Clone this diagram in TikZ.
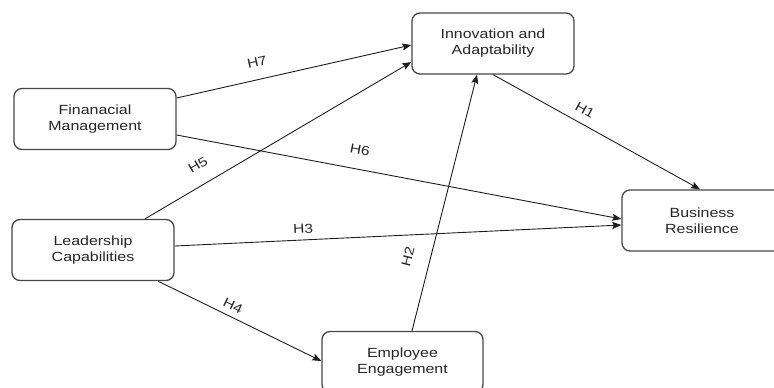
\documentclass[tikz,border=0pt]{standalone}
\usepackage{fontspec}
\setmainfont{Liberation Sans}[FakeStretch=1.2]
\usetikzlibrary{arrows.meta,calc}
\definecolor{boxline}{HTML}{474747}
\definecolor{txt}{HTML}{262626}
\definecolor{arr}{HTML}{1E1E1E}
\begin{document}
\begin{tikzpicture}[x=1pt,y=-1pt,
  box/.style={draw=boxline, line width=1.3pt, rounded corners=8pt, fill=white,
    minimum width=#1, minimum height=61pt, inner sep=0pt, align=center,
    text=txt, font=\fontsize{13.3}{16}\selectfont},
  box/.default=162pt,
  link/.style={draw=arr, line width=0.9pt, -{Stealth[length=9pt,width=7pt,inset=1.5pt]}},
  hlabel/.style={text=txt, font=\fontsize{13}{14}\selectfont, inner sep=0pt}]
\useasboundingbox (0,0) rectangle (774,388);
\clip (0,0) rectangle (774,388);
\node[box] (fin) at (95,119) {Finanacial\\Management};
\node[box] (lead) at (93,250) {Leadership\\Capabilities};
\node[box] (inn) at (493,43.5) {Innovation and\\Adaptability};
\node[box=160pt] (bus) at (702,220.5) {Business\\Resilience};
\node[box=161pt] (emp) at (402.5,362) {Employee\\Engagement};

\draw[link] ([yshift=21pt]fin.east) -- ([yshift=-1.5pt]inn.west);
\draw[link] ([xshift=52pt]lead.north) -- ([yshift=-18.5pt]inn.west);
\draw[link] ([yshift=-16pt]fin.east) -- ([yshift=1.5pt]bus.west);
\draw[link] ([yshift=4pt]lead.east) -- ([yshift=-4.5pt]bus.west);
\draw[link] ([xshift=65pt]lead.south) -- ([yshift=1pt]emp.west);
\draw[link] ([xshift=9.5pt]emp.north) -- ([xshift=-16pt]inn.south);
\draw[link] (inn.south) -- ([xshift=-2pt]bus.north);

\node[hlabel, rotate=12.7] (h7) at (257,62) {H7};
\node[hlabel, rotate=30.5] (h5) at (198,165) {H5};
\node[hlabel, rotate=-10.7] (h6) at (360,150) {H6};
\node[hlabel, rotate=2.7] (h3) at (303,229) {H3};
\node[hlabel, rotate=75.7] (h2) at (408,257) {H2};
\node[hlabel, rotate=-26] (h4) at (233,306) {H4};
\node[hlabel, rotate=-29] (h1) at (585,110) {H1};
\end{tikzpicture}
\end{document}
